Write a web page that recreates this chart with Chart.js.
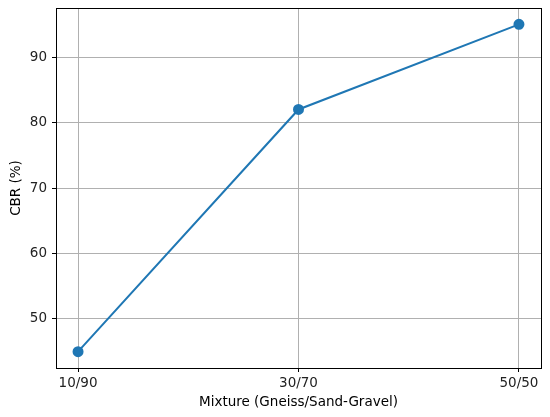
<!DOCTYPE html>
<html lang="en">
<head>
    <meta charset="UTF-8">
    <title>CBR vs Mixture</title>
    <script src="https://cdn.jsdelivr.net/npm/chart.js"></script>
    <style>
        body { margin: 0; background: #fff; }
        .chart-container { width: 550px; height: 417px; }
    </style>
</head>
<body>
    <div class="chart-container">
        <canvas id="cbrChart"></canvas>
    </div>
    <script>
        const mixtures = ['10/90', '30/70', '50/50'];
        const cbrValues = [45, 82, 95];
        const yTicks = [50, 60, 70, 80, 90];

        // draw the full box round the plot area, like matplotlib spines
        const frame = {
            id: 'frame',
            afterDraw(chart) {
                const { ctx, chartArea: a } = chart;
                ctx.save();
                ctx.strokeStyle = '#000';
                ctx.lineWidth = 1;
                ctx.strokeRect(a.left + 0.5, a.top + 0.5, a.right - a.left, a.bottom - a.top);
                ctx.restore();
            }
        };

        const font = { family: 'DejaVu Sans', size: 13.5 };

        const ctx = document.getElementById('cbrChart').getContext('2d');
        new Chart(ctx, {
            type: 'line',
            data: {
                datasets: [{
                    data: cbrValues.map((v, i) => ({ x: i, y: v })),
                    borderColor: '#1f77b4',
                    backgroundColor: '#1f77b4',
                    borderWidth: 2,
                    pointRadius: 4.5,
                    pointHoverRadius: 4.5,
                    fill: false,
                    tension: 0
                }]
            },
            plugins: [frame],
            options: {
                responsive: true,
                maintainAspectRatio: false,
                animation: false,
                layout: { padding: { top: 8, right: 9, left: 0, bottom: 0 } },
                plugins: {
                    legend: { display: false },
                    tooltip: { enabled: false }
                },
                scales: {
                    x: {
                        type: 'linear',
                        min: -0.1,
                        max: 2.1,
                        afterBuildTicks: axis => { axis.ticks = mixtures.map((m, i) => ({ value: i })); },
                        afterFit: axis => {
                            axis.height = 49;
                            axis.paddingLeft = 0;
                            axis.paddingRight = 0;
                        },
                        ticks: {
                            callback: v => mixtures[v],
                            color: '#222',
                            font: font,
                            padding: 3,
                            maxRotation: 0
                        },
                        grid: {
                            color: '#b0b0b0',
                            lineWidth: 1,
                            tickLength: 4,
                            tickColor: '#000'
                        },
                        border: { display: false },
                        title: {
                            display: true,
                            text: 'Mixture (Gneiss/Sand-Gravel)',
                            color: '#000',
                            font: font,
                            padding: { top: 0, bottom: 6 }
                        }
                    },
                    y: {
                        type: 'linear',
                        min: 42.5,
                        max: 97.5,
                        afterBuildTicks: axis => { axis.ticks = yTicks.map(v => ({ value: v })); },
                        afterFit: axis => {
                            axis.width = 56;
                            axis.paddingTop = 0;
                            axis.paddingBottom = 0;
                        },
                        ticks: {
                            color: '#222',
                            font: font,
                            padding: 5
                        },
                        grid: {
                            color: '#b0b0b0',
                            lineWidth: 1,
                            tickLength: 4,
                            tickColor: '#000'
                        },
                        border: { display: false },
                        title: {
                            display: true,
                            text: 'CBR (%)',
                            color: '#000',
                            font: font,
                            padding: { top: 8, bottom: 0 }
                        }
                    }
                }
            }
        });
    </script>
</body>
</html>
